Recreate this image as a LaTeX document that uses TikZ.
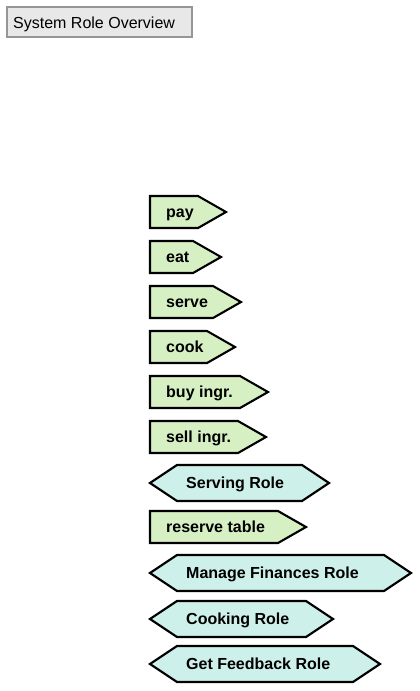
\documentclass[tikz,border=0pt]{standalone}
\usepackage{fontspec}
\setmainfont{Liberation Sans}
\definecolor{taskgreen}{RGB}{214,240,196}
\definecolor{rolecyan}{RGB}{206,240,234}
\definecolor{titlegray}{RGB}{232,232,232}
\definecolor{titleedge}{RGB}{150,150,150}
\tikzset{
    task/.style = {color = black, fill = taskgreen, line width = 2.1pt, line join = miter},
    role/.style = {color = black, fill = rolecyan, line width = 2.1pt, line join = miter},
    shapetext/.style = {anchor = base west, inner sep = 0pt, font = \fontsize{16}{19}\selectfont\bfseries},
}

\begin{document}
\begin{tikzpicture}[x = 1pt, y = -1pt]
            \useasboundingbox (0, 0) rectangle (420, 691);

            \filldraw[color = titleedge, fill = titlegray, line width = 1.2pt](7, 7) rectangle (192, 37);
            \node[anchor = base west, inner sep = 0pt, font = \fontsize{16}{19}\selectfont] (title) at (13, 28) {System Role Overview};

            % tasks
            \filldraw[task](150, 196) -- (226 - 28, 196) -- (226, 212) -- (226 - 28, 228) -- (150, 228) -- cycle;
            \node[shapetext] (pay) at (166, 212 + 5) {pay};

            \filldraw[task](150, 241) -- (221 - 28, 241) -- (221, 257) -- (221 - 28, 273) -- (150, 273) -- cycle;
            \node[shapetext] (eat) at (166, 257 + 5) {eat};

            \filldraw[task](150, 286) -- (241 - 28, 286) -- (241, 302) -- (241 - 28, 318) -- (150, 318) -- cycle;
            \node[shapetext] (serve) at (166, 302 + 5) {serve};

            \filldraw[task](150, 331) -- (235 - 28, 331) -- (235, 347) -- (235 - 28, 363) -- (150, 363) -- cycle;
            \node[shapetext] (cook) at (166, 347 + 5) {cook};

            \filldraw[task](150, 376) -- (268 - 28, 376) -- (268, 392) -- (268 - 28, 408) -- (150, 408) -- cycle;
            \node[shapetext] (buy) at (166, 392 + 5) {buy ingr.};

            \filldraw[task](150, 421) -- (266 - 28, 421) -- (266, 437) -- (266 - 28, 453) -- (150, 453) -- cycle;
            \node[shapetext] (sell) at (166, 437 + 5) {sell ingr.};

            \filldraw[task](150, 511) -- (306 - 28, 511) -- (306, 527) -- (306 - 28, 543) -- (150, 543) -- cycle;
            \node[shapetext] (reserve) at (166, 527 + 5) {reserve table};

            % roles
            \filldraw[role](150, 483) -- (177, 465) -- (329 - 27, 465) -- (329, 483) -- (329 - 27, 501) -- (177, 501) -- cycle;
            \node[shapetext] (serving) at (186, 483 + 5.5) {Serving Role};

            \filldraw[role](150, 573) -- (177, 555) -- (411 - 27, 555) -- (411, 573) -- (411 - 27, 591) -- (177, 591) -- cycle;
            \node[shapetext] (finances) at (186, 573 + 5.5) {Manage Finances Role};

            \filldraw[role](150, 619) -- (177, 601) -- (333 - 27, 601) -- (333, 619) -- (333 - 27, 637) -- (177, 637) -- cycle;
            \node[shapetext] (cooking) at (186, 619 + 5.5) {Cooking Role};

            \filldraw[role](150, 664) -- (177, 646) -- (380 - 27, 646) -- (380, 664) -- (380 - 27, 682) -- (177, 682) -- cycle;
            \node[shapetext] (feedback) at (186, 664 + 5.5) {Get Feedback Role};
        \end{tikzpicture}
\end{document}
